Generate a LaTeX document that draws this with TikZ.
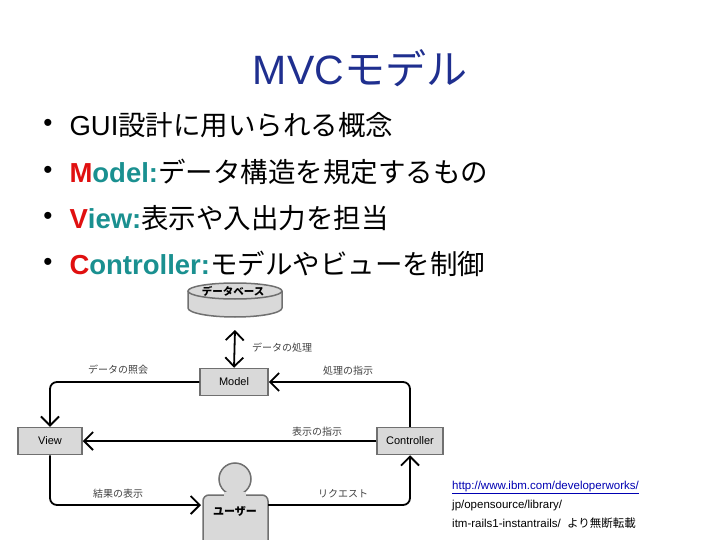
\documentclass[tikz,border=0pt]{standalone}
\usepackage{fontspec}
\setmainfont{Liberation Sans}
\newfontfamily\cjk{Noto Sans CJK JP}
\usetikzlibrary{arrows.meta}
\definecolor{ttl}{HTML}{1F2F8F}
\definecolor{tl}{HTML}{1A9090}
\definecolor{rd}{HTML}{E01010}
\definecolor{bx}{HTML}{D9D9D9}
\definecolor{bd}{HTML}{707070}
\tikzset{
 box/.style={draw=bd,line width=1.5pt,fill=bx,minimum height=27pt,inner sep=2pt,font=\fontsize{11}{13}\selectfont},
 lbl/.style={font=\cjk\fontsize{10}{12}\selectfont,text=black!75},
 con/.style={line width=1.8pt,rounded corners=7pt,-{Straight Barb[length=9pt,width=18pt,line width=1.8pt]}},
 bul/.style={anchor=west,font=\fontsize{27.5}{32}\selectfont},
}
\begin{document}
\begin{tikzpicture}[x=1pt,y=-1pt]
\useasboundingbox (0,0) rectangle (720,540);
\node (title) at (360,68) {\fontsize{41}{46}\selectfont\textcolor{ttl}{MVC{\cjk モデル}}};
\foreach \y in {125,172,218,264}{\node at (48,\y) {\fontsize{26}{26}\selectfont•};}
\node[bul] (b1) at (66,125) {GUI{\cjk 設計に用いられる概念}};
\node[bul] (b2) at (66,172) {\textbf{\textcolor{rd}{M}\textcolor{tl}{odel:}}{\cjk データ構造を規定するもの}};
\node[bul] (b3) at (66,218) {\textbf{\textcolor{rd}{V}\textcolor{tl}{iew:}}{\cjk 表示や入出力を担当}};
\node[bul] (b4) at (66,264) {\textbf{\textcolor{rd}{C}\textcolor{tl}{ontroller:}}{\cjk モデルやビューを制御}};
% database (manual cylinder)
\path[draw=bd,line width=1.5pt,fill=bx] (188,291) -- (188,308) arc[start angle=180,end angle=0,x radius=47,y radius=9] -- (282,291);
\path[draw=bd,line width=1.5pt,fill=bx] (235,291) ellipse[x radius=47,y radius=8];
\node[font=\cjk\fontsize{10.5}{12}\selectfont\bfseries] (db) at (233,291) {データベース};
\coordinate (dbb) at (235,330);
\node[box,minimum width=68pt] (model) at (234,382) {Model};
\node[box,minimum width=64pt] (view) at (50,441) {View};
\node[box,minimum width=66pt] (ctrl) at (410,441) {Controller};
% user
\path[draw=bd,line width=1.5pt,fill=bx,rounded corners=6pt] (203,541) -- (203,495) -- (268,495) -- (268,541);
\node[circle,draw=bd,line width=1.5pt,fill=bx,minimum size=32pt] (head) at (235,479) {};
\fill[bx] (224,492) rectangle (246,498);
\node[font=\cjk\fontsize{11}{13}\selectfont\bfseries,inner sep=1pt] (user) at (235,511) {ユーザー};
\coordinate (uL) at (201,505);
\coordinate (uR) at (268,505);
% connectors
\draw[line width=1.8pt,{Straight Barb[length=9pt,width=18pt,line width=1.8pt]}-{Straight Barb[length=9pt,width=18pt,line width=1.8pt]}] (dbb) -- (model.north);
\draw[con] (model.west) -| (view.north);
\draw[con] (ctrl.north) |- (model.east);
\draw[con,line width=2.4pt] (ctrl.west) -- (view.east);
\draw[con] (view.south) |- (uL);
\draw[con] (uR) -| (ctrl.south);
\node[lbl] at (282,348) {データの処理};
\node[lbl] at (118,370) {データの照会};
\node[lbl] at (348,371) {処理の指示};
\node[lbl] at (317,432) {表示の指示};
\node[lbl] at (118,494) {結果の表示};
\node[lbl] at (343,494) {リクエスト};
\node[anchor=north west,align=left,inner sep=0pt,font=\fontsize{11.5}{19}\selectfont] (url) at (452,481) {\textcolor{blue!70!black}{\underline{http://www.ibm.com/developerworks/}}\\jp/opensource/library/\\itm-rails1-instantrails/\ \ {\cjk より無断転載}};
\end{tikzpicture}
\end{document}
